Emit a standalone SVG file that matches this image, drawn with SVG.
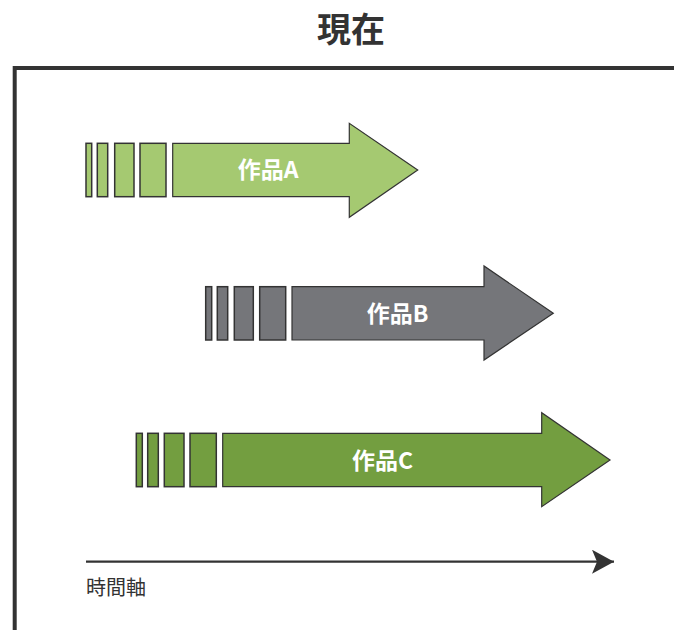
<svg xmlns="http://www.w3.org/2000/svg" width="674" height="630" viewBox="0 0 674 630">
<defs>
<style>
.title{font-family:"Noto Sans CJK JP","Noto Sans",sans-serif;font-weight:bold;font-size:34px;fill:#333;text-anchor:middle}
.lbl{font-family:"Noto Sans CJK JP","Noto Sans",sans-serif;font-weight:bold;font-size:23px;fill:#fff;text-anchor:middle}
.axis{font-family:"Noto Sans CJK JP","Noto Sans",sans-serif;font-size:20px;fill:#333}
.bar{stroke:#333;stroke-width:1.5}
.body{stroke:#333;stroke-width:1.2;stroke-linejoin:miter}
.a{fill:#a5c971}
.b{fill:#75767a}
.c{fill:#739e40}
</style>
<marker id="ah" viewBox="0 0 24 24" markerWidth="24" markerHeight="24" refX="22" refY="12" markerUnits="userSpaceOnUse" orient="auto">
<path d="M0,0 L22,12 L0,24 L5,12 Z" fill="#333"/>
</marker>
</defs>
<rect width="674" height="630" fill="#fff"/>
<text class="title" x="351" y="42">現在</text>
<path d="M14.7,632 V68 H676" fill="none" stroke="#333" stroke-width="4"/>
<g id="workA">
<rect class="bar a" x="86" y="143.3" width="5.7" height="53.4"/>
<rect class="bar a" x="97.3" y="143.3" width="10.4" height="53.4"/>
<rect class="bar a" x="114.7" y="143.3" width="19.3" height="53.4"/>
<rect class="bar a" x="140" y="143.3" width="26" height="53.4"/>
<path class="body a" d="M172.7,143.3 H349.3 V123.3 L417.7,170 L349.3,217.3 V196.7 H172.7 Z"/>
<text class="lbl" x="268" y="178">作品A</text>
</g>
<g id="workB">
<rect class="bar b" x="205.7" y="286.7" width="6" height="53.3"/>
<rect class="bar b" x="217.3" y="286.7" width="10.4" height="53.3"/>
<rect class="bar b" x="234.3" y="286.7" width="19" height="53.3"/>
<rect class="bar b" x="259.7" y="286.7" width="26" height="53.3"/>
<path class="body b" d="M292,286.7 H484 V266 L553.3,313.3 L484,360 V340 H292 Z"/>
<text class="lbl" x="397.5" y="321.5">作品B</text>
</g>
<g id="workC">
<rect class="bar c" x="136.3" y="433.3" width="6" height="53.4"/>
<rect class="bar c" x="147.7" y="433.3" width="10.6" height="53.4"/>
<rect class="bar c" x="164.3" y="433.3" width="19.7" height="53.4"/>
<rect class="bar c" x="190" y="433.3" width="26.3" height="53.4"/>
<path class="body c" d="M222.7,433.3 H541.7 V412.7 L610,460 L541.7,506.7 V486.7 H222.7 Z"/>
<text class="lbl" x="382.5" y="468.5">作品C</text>
</g>
<g id="connectors">
<line x1="86" y1="561.7" x2="614" y2="561.7" stroke="#333" stroke-width="2.2" marker-end="url(#ah)"/>
</g>
<text class="axis" x="86" y="595">時間軸</text>
</svg>
